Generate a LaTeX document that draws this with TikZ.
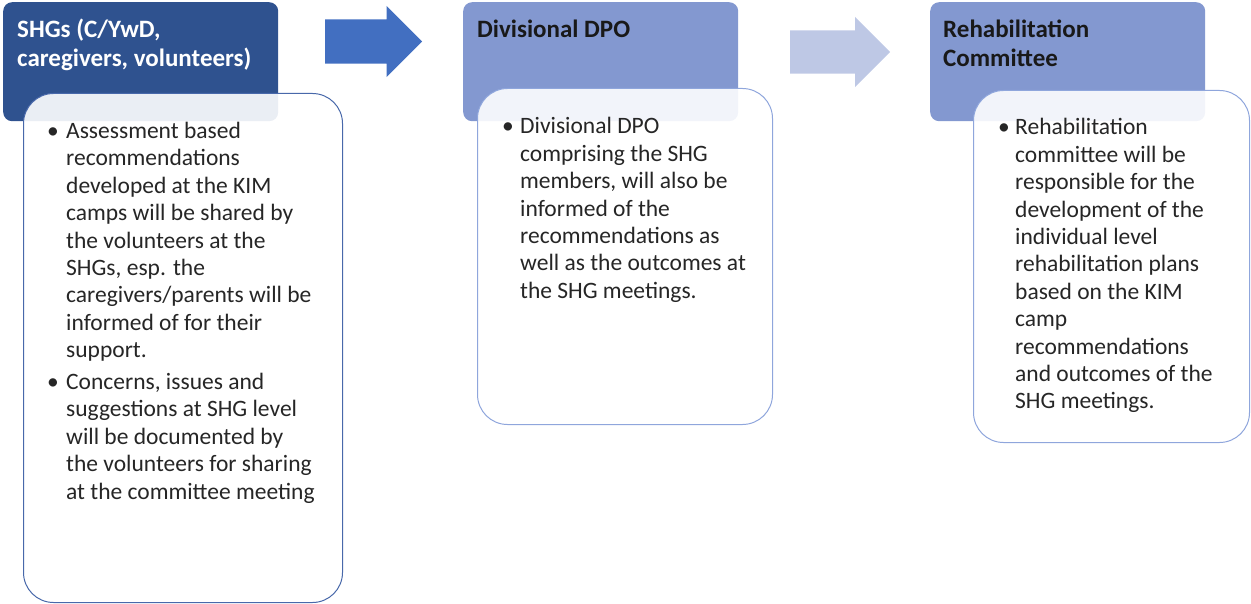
\documentclass[tikz,border=0pt]{standalone}
\usepackage{fontspec}
\setmainfont{Carlito}
\usetikzlibrary{shapes.arrows,positioning}

\definecolor{hdrdark}{RGB}{47,82,143}
\definecolor{hdrlight}{RGB}{131,152,208}
\definecolor{arrdark}{RGB}{66,111,193}
\definecolor{arrlight}{RGB}{190,200,229}
\definecolor{linedark}{RGB}{72,104,170}
\definecolor{linelight}{RGB}{143,166,220}

\newcommand{\bl}[1][18pt]{\makebox[#1][l]{\textbullet}}

\begin{document}
\begin{tikzpicture}
	[x=1pt,y=-1pt,
	 hdr/.style={rectangle,rounded corners=9pt,anchor=north west,inner sep=0pt,minimum width=275pt,minimum height=119pt},
	 body/.style={rectangle,rounded corners=30pt,anchor=north west,inner sep=0pt,fill=white,fill opacity=0.9,line width=1pt},
	 htext/.style={anchor=base west,inner sep=0pt,font=\fontsize{25}{28.5}\selectfont\bfseries},
	 btext/.style={anchor=base west,inner sep=0pt,text=black!85,font=\fontsize{23.5}{27.4}\selectfont},
	 flow/.style={single arrow,single arrow head extend=13.5pt,inner xsep=0pt,anchor=west}]
	\useasboundingbox (0,0) rectangle (1251,604);

	% headers
	\node[hdr,fill=hdrdark] (shg) at (3,2) {};
	\node[hdr,fill=hdrlight] (dpo) at (463,2) {};
	\node[hdr,fill=hdrlight] (rehab) at (930,2) {};
	\node[htext,text=white] (shgtitle) at (17,38) {\begin{tabular}[t]{@{}l@{}}SHGs (C/YwD,\\caregivers, volunteers)\end{tabular}};
	\node[htext,text=black!90] (dpotitle) at (477,38) {Divisional DPO};
	\node[htext,text=black!90] (rehabtitle) at (943,38) {\begin{tabular}[t]{@{}l@{}}Rehabilitation\\Committee\end{tabular}};

	% text boxes
	\node[body,draw=linedark,minimum width=319pt,minimum height=509pt] (shgbody) at (23,93) {};
	\node[body,draw=linelight,minimum width=295pt,minimum height=336pt] (dpobody) at (477,88) {};
	\node[body,draw=linelight,minimum width=276pt,minimum height=352pt] (rehabbody) at (973,90) {};

	\node[btext] (shgtext) at (47,138.5) {\begin{tabular}[t]{@{}l@{}l@{}}
		\bl[19pt] & Assessment based\\
		& recommendations\\
		& developed at the KIM\\
		& camps will be shared by\\
		& the volunteers at the\\
		& SHGs, esp. the\\
		& caregivers/parents will be\\
		& informed of for their\\
		& support.\\[4.5pt]
		\bl[19pt] & Concerns, issues and\\
		& suggestions at SHG level\\
		& will be documented by\\
		& the volunteers for sharing\\
		& at the committee meeting
	\end{tabular}};
	\node[btext] (dpotext) at (502,134) {\begin{tabular}[t]{@{}l@{}l@{}}
		\bl & Divisional DPO\\
		& comprising the SHG\\
		& members, will also be\\
		& informed of the\\
		& recommendations as\\
		& well as the outcomes at\\
		& the SHG meetings.
	\end{tabular}};
	\node[btext] (rehabtext) at (998,135) {\begin{tabular}[t]{@{}l@{}l@{}}
		\bl[17pt] & Rehabilitation\\
		& committee will be\\
		& responsible for the\\
		& development of the\\
		& individual level\\
		& rehabilitation plans\\
		& based on the KIM\\
		& camp\\
		& recommendations\\
		& and outcomes of the\\
		& SHG meetings.
	\end{tabular}};

	% arrows
	\node[flow,fill=arrdark,inner ysep=22pt,minimum height=97pt] (arrA) at (325,41.5) {};
	\node[flow,fill=arrlight,inner ysep=21.5pt,minimum height=100pt] (arrB) at (790,52) {};
\end{tikzpicture}
\end{document}
